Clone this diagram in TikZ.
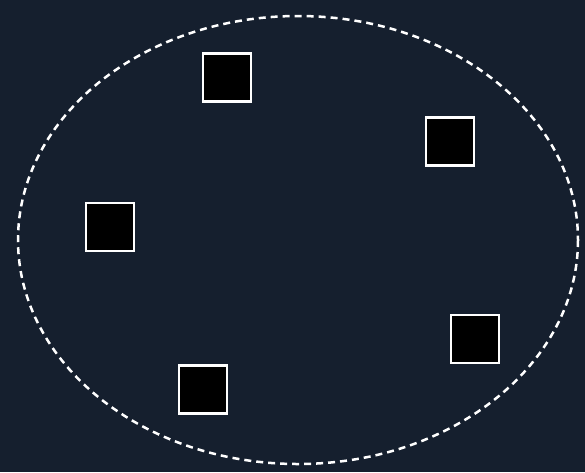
\documentclass[tikz,border=0pt]{standalone}
\definecolor{bg}{HTML}{151F2E}
\begin{document}
\begin{tikzpicture}[x=1pt,y=-1pt,
  box/.style={draw=white,fill=black,line width=2.5pt,minimum width=48pt,minimum height=48pt,inner sep=0pt,outer sep=0pt},
  ring/.style={draw=white,line width=2.5pt,dash pattern=on 7pt off 5pt}]
\fill[bg] (0,0) rectangle (585,472);
\useasboundingbox (0,0) rectangle (585,472);
\draw[ring] (298,240) ellipse [x radius=280, y radius=224];
\node[box] (b1) at (227,77.5) {};
\node[box] (b2) at (450,141.5) {};
\node[box] (b3) at (110,227) {};
\node[box] (b4) at (475,339) {};
\node[box] (b5) at (203,389.5) {};
\end{tikzpicture}
\end{document}
